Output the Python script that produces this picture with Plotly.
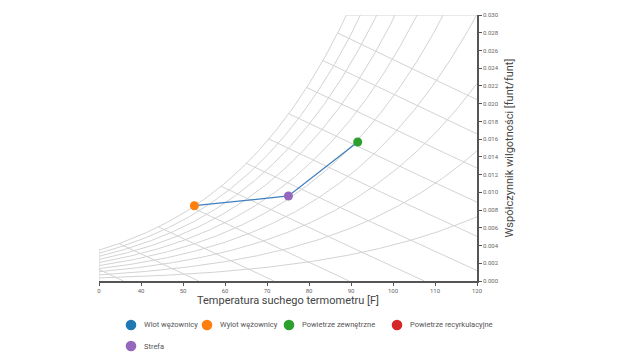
import numpy as np
import plotly.graph_objects as go

# ---------------- data ----------------
series_names = ["Wlot wężownicy", "Wylot wężownicy", "Powietrze zewnętrzne",
                "Powietrze recyrkulacyjne", "Strefa"]
series_colors = ["#1f77b4", "#ff7f0e", "#2ca02c", "#d62728", "#9467bd"]

# state points: dry-bulb temperature [F], humidity ratio [lb/lb]
coil_out_T = [52.7]
coil_out_W = [0.00849]
zone_T = [75.1]
zone_W = [0.00959]
outdoor_T = [91.6]
outdoor_W = [0.01568]

# process path drawn through the points (coil outlet -> zone -> outdoor)
path_T = [52.7, 75.1, 91.6]
path_W = [0.00849, 0.00959, 0.01568]

rh_levels = [10, 20, 30, 40, 50, 60, 70, 80, 90, 100]          # %
enthalpy_kj = [20, 30, 40, 50, 60, 70, 80, 90, 100, 110, 120]  # kJ/kg

x_tick_vals = [30, 40, 50, 60, 70, 80, 90, 100, 110, 120]
x_tick_text = ["0", "40", "50", "60", "70", "80", "90", "100", "110", "120"]
x_range = [30, 120]
y_range = [0, 0.030]

# ---------------- psychrometrics ----------------
P_ATM = 14.696


def p_ws(t_f):
    T = np.asarray(t_f, dtype=float) + 459.67
    C8, C9, C10 = -1.0440397e4, -1.1294650e1, -2.7022355e-2
    C11, C12, C13 = 1.2890360e-5, -2.4780681e-9, 6.5459673
    return np.exp(C8 / T + C9 + C10 * T + C11 * T**2 + C12 * T**3 + C13 * np.log(T))


def w_from_pw(pw):
    return 0.621945 * pw / (P_ATM - pw)


def h_of(t, w):
    return 0.24 * t + w * (1061 + 0.444 * t)


def t_sat_for_h(h):
    lo, hi = -20.0, 140.0
    for _ in range(80):
        mid = 0.5 * (lo + hi)
        if h_of(mid, w_from_pw(p_ws(mid))) > h:
            hi = mid
        else:
            lo = mid
    return 0.5 * (lo + hi)


def t_sat_for_w(w):
    lo, hi = -20.0, 140.0
    for _ in range(80):
        mid = 0.5 * (lo + hi)
        if w_from_pw(p_ws(mid)) > w:
            hi = mid
        else:
            lo = mid
    return 0.5 * (lo + hi)


grid_color = "#d3d3d3"
fig = go.Figure()

# relative humidity curves
T = np.linspace(x_range[0], x_range[1], 361)
for rh in rh_levels:
    W = w_from_pw(rh / 100.0 * p_ws(T))
    fig.add_trace(go.Scatter(x=T, y=W, mode="lines", showlegend=False, hoverinfo="skip",
                             line=dict(color=grid_color, width=1)))

# enthalpy lines
for hk in enthalpy_kj:
    hb = hk / 2.326
    ts = t_sat_for_h(hb)
    tz = hb / 0.24
    tt = np.linspace(ts, min(tz, 130), 60)
    ww = (hb - 0.24 * tt) / (1061 + 0.444 * tt)
    fig.add_trace(go.Scatter(x=tt, y=ww, mode="lines", showlegend=False, hoverinfo="skip",
                             line=dict(color=grid_color, width=1)))

# chart border pieces (top edge beyond saturation, left edge under saturation)
t_top = t_sat_for_w(y_range[1])
fig.add_trace(go.Scatter(x=[t_top, x_range[1]], y=[y_range[1], y_range[1]], mode="lines",
                         showlegend=False, hoverinfo="skip",
                         line=dict(color=grid_color, width=1)))
w_left = float(w_from_pw(p_ws(x_range[0])))
fig.add_trace(go.Scatter(x=[x_range[0], x_range[0]], y=[0, w_left], mode="lines",
                         showlegend=False, hoverinfo="skip",
                         line=dict(color=grid_color, width=1)))

# process line
fig.add_trace(go.Scatter(x=path_T, y=path_W, mode="lines", showlegend=False,
                         line=dict(color="#3f7fbf", width=1.3)))

# state points
pts = [(coil_out_T, coil_out_W, series_colors[1], series_names[1]),
       (zone_T, zone_W, series_colors[4], series_names[4]),
       (outdoor_T, outdoor_W, series_colors[2], series_names[2])]
for xs, ys, c, n in pts:
    fig.add_trace(go.Scatter(x=xs, y=ys, mode="markers", name=n, showlegend=False,
                             marker=dict(color=c, size=9)))

# ---------------- layout ----------------
W_FIG, H_FIG = 622, 358
OFF = 8  # page body margin of the html page
plot_l, plot_r, plot_t, plot_b = 99 - OFF, 477 - OFF, 15 - OFF, 281 - OFF
pw_, ph_ = plot_r - plot_l, plot_b - plot_t


def to_paper(px, py):
    return (px - OFF - plot_l) / pw_, (plot_b - (py - OFF)) / ph_


# legend (markers + labels placed as in the original, below the plot)
leg_marker_px = [(131, 325), (207, 325), (289, 325), (397, 325), (131, 346)]
shapes, annotations = [], []
for (mx, my), name, color in zip(leg_marker_px, series_names, series_colors):
    xp, yp = to_paper(mx, my)
    shapes.append(dict(type="circle", xref="paper", yref="paper",
                       xsizemode="pixel", ysizemode="pixel",
                       xanchor=xp, yanchor=yp, x0=-5.3, x1=5.3, y0=-5.3, y1=5.3,
                       fillcolor=color, line=dict(width=0)))
    tx, ty = to_paper(mx + 11, my)
    annotations.append(dict(x=tx, y=ty, xref="paper", yref="paper", text=name,
                            showarrow=False, xanchor="left", yanchor="middle",
                            font=dict(family="Roboto", size=7.5, color="#555")))

axis_font = dict(family="Roboto", size=6, color="#666")
fig.update_layout(
    width=W_FIG, height=H_FIG,
    margin=dict(l=plot_l, r=W_FIG - plot_r, t=plot_t, b=H_FIG - plot_b),
    paper_bgcolor="white", plot_bgcolor="white",
    font=dict(family="Roboto", color="#444"),
    showlegend=False,
    shapes=shapes, annotations=annotations,
    xaxis=dict(range=x_range, tickvals=x_tick_vals, ticktext=x_tick_text,
               ticks="outside", ticklen=3, tickcolor="#555", tickfont=axis_font,
               showline=True, linecolor="#555", linewidth=1.5,
               showgrid=False, zeroline=False, automargin=False,
               title=dict(text="Temperatura suchego termometru [F]",
                          font=dict(family="Roboto", size=11, color="#444"), standoff=1)),
    yaxis=dict(range=y_range, dtick=0.002, tickformat=".3f", side="right",
               ticks="outside", ticklen=3, tickcolor="#555", tickfont=axis_font,
               showline=True, linecolor="#555", linewidth=1.5,
               showgrid=False, zeroline=False, automargin=False,
               title=dict(text="Współczynnik wilgotności [funt/funt]",
                          font=dict(family="Roboto", size=11, color="#444"), standoff=8)),
)

fig.write_html("out.html")
